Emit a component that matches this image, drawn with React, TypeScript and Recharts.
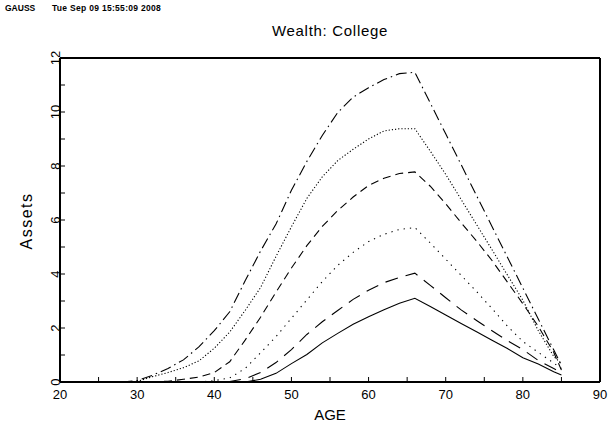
import { LineChart, Line, XAxis, YAxis } from "recharts";

const ages = [
  20, 22, 24, 26, 28, 30, 32, 34, 36, 38, 40, 42, 44, 46, 48, 50, 52, 54, 56, 58, 60, 62, 64, 66,
  68, 70, 72, 74, 76, 78, 80, 82, 84, 85,
];

// lowest curve (solid) up to highest (dash-dot)
const solid = [
  0, 0, 0, 0, 0, 0, 0, 0, 0, 0, 0, 0, 0, 0.1, 0.32, 0.68, 1.02, 1.45, 1.8, 2.14, 2.42, 2.68, 2.92, 3.1,
  2.8, 2.48, 2.17, 1.86, 1.55, 1.24, 0.9, 0.67, 0.38, 0.26,
];
const longDash = [
  0, 0, 0, 0, 0, 0, 0, 0, 0, 0, 0, 0.02, 0.12, 0.35, 0.72, 1.2, 1.76, 2.23, 2.65, 3.06, 3.4, 3.68, 3.87, 4.03,
  3.58, 3.12, 2.67, 2.28, 1.9, 1.53, 1.2, 0.8, 0.5, 0.35,
];
const sparseDot = [
  0, 0, 0, 0, 0, 0, 0, 0, 0, 0, 0.05, 0.15, 0.5, 1.08, 1.68, 2.36, 3.04, 3.72, 4.32, 4.8, 5.2, 5.47, 5.65, 5.72,
  5.15, 4.55, 3.95, 3.35, 2.72, 2.07, 1.5, 1.1, 0.7, 0.5,
];
const mediumDash = [
  0, 0, 0, 0, 0, 0, 0, 0.03, 0.1, 0.18, 0.35, 0.75, 1.55, 2.4, 3.33, 4.22, 5.05, 5.76, 6.35, 6.85, 7.28, 7.55, 7.72, 7.78,
  7.25, 6.6, 5.9, 5.22, 4.5, 3.7, 2.9, 2.06, 1.1, 0.44,
];
const denseDot = [
  0, 0, 0, 0, 0, 0.02, 0.2, 0.35, 0.53, 0.78, 1.25, 1.85, 2.65, 3.5, 4.65, 5.75, 6.8, 7.6, 8.2, 8.62, 9.0, 9.3, 9.38, 9.38,
  8.55, 7.69, 6.76, 5.83, 4.9, 3.96, 3.03, 1.9, 0.95, 0.68,
];
const dashDot = [
  0, 0, 0, 0, 0, 0.05, 0.25, 0.5, 0.82, 1.3, 1.9, 2.6, 3.75, 4.85, 5.85, 7.1, 8.17, 9.13, 9.98, 10.55, 10.9, 11.2, 11.42, 11.47,
  10.33, 9.19, 8.05, 6.9, 5.76, 4.62, 3.48, 2.33, 1.19, 0.62,
];

const xTicks = [20, 25, 30, 35, 40, 45, 50, 55, 60, 65, 70, 75, 80, 85, 90];
const yTicks = [0, 1, 2, 3, 4, 5, 6, 7, 8, 9, 10, 11, 12];

const data = ages.map((age, i) => ({
  age,
  solid: solid[i],
  longDash: longDash[i],
  sparseDot: sparseDot[i],
  mediumDash: mediumDash[i],
  denseDot: denseDot[i],
  dashDot: dashDot[i],
}));

const font = "'Liberation Sans', Arial, sans-serif";

const series = [
  { key: "solid", dash: undefined },
  { key: "longDash", dash: "13 8" },
  { key: "sparseDot", dash: "1.3 5" },
  { key: "mediumDash", dash: "8 5" },
  { key: "denseDot", dash: "1.2 2" },
  { key: "dashDot", dash: "11 4 1.5 4" },
];

function YTick(props: any) {
  const { x, y, payload } = props;
  if (payload.value % 2 !== 0) return null;
  return (
    <text
      x={x}
      y={y}
      transform={`rotate(-90 ${x} ${y})`}
      textAnchor="middle"
      fontSize={13}
      fontFamily={font}
      fill="#000"
    >
      {payload.value}
    </text>
  );
}

const frameLine = { stroke: "#000", strokeWidth: 2 };

export default function App() {
  return (
    <div style={{ position: "absolute", left: 0, top: 0, width: 608, height: 432, background: "#fff" }}>
      <div style={{ position: "absolute", left: 5, top: 3, fontFamily: font, fontSize: 8.5, fontWeight: "bold", whiteSpace: "pre" }}>
        GAUSS
      </div>
      <div style={{ position: "absolute", left: 52, top: 3, fontFamily: font, fontSize: 8.5, fontWeight: "bold", letterSpacing: 0.3, whiteSpace: "pre" }}>
        Tue Sep 09 15:55:09 2008
      </div>
      <div style={{ position: "absolute", left: 0, width: 660, top: 22, textAlign: "center", fontFamily: font, fontSize: 15, letterSpacing: 0.7 }}>
        Wealth:  College
      </div>
      <div style={{ position: "absolute", left: 0, width: 660, top: 406, textAlign: "center", fontFamily: font, fontSize: 15 }}>
        AGE
      </div>
      <div
        style={{
          position: "absolute",
          left: 27,
          top: 221,
          transform: "translate(-50%, -50%) rotate(-90deg)",
          fontFamily: font,
          fontSize: 16,
          letterSpacing: 1.5,
          whiteSpace: "nowrap",
        }}
      >
        Assets
      </div>
      <LineChart width={608} height={432} data={data} margin={{ top: 57, right: 7, bottom: 20, left: 20 }}>
        <XAxis
          dataKey="age"
          type="number"
          domain={[20, 90]}
          ticks={xTicks}
          interval={0}
          height={30}
          axisLine={frameLine}
          tickLine={{ stroke: "#000" }}
          tickSize={-5}
          tickMargin={13}
          tickFormatter={(v: number) => (v % 10 === 0 ? String(v) : "")}
          tick={{ fill: "#000", fontSize: 13, fontFamily: font }}
        />
        <XAxis
          xAxisId="top"
          orientation="top"
          dataKey="age"
          type="number"
          domain={[20, 90]}
          ticks={xTicks}
          interval={0}
          height={1}
          tick={false}
          axisLine={frameLine}
          tickLine={{ stroke: "#000" }}
          tickSize={-5}
        />
        <YAxis
          type="number"
          domain={[0, 12]}
          ticks={yTicks}
          interval={0}
          width={40}
          axisLine={frameLine}
          tickLine={{ stroke: "#000" }}
          tickSize={-5}
          tickMargin={5}
          tick={<YTick />}
        />
        <YAxis
          yAxisId="right"
          orientation="right"
          type="number"
          domain={[0, 12]}
          ticks={yTicks}
          interval={0}
          width={1}
          tick={false}
          axisLine={frameLine}
          tickLine={{ stroke: "#000" }}
          tickSize={-5}
        />
        {series.map((s) => (
          <Line
            key={s.key}
            dataKey={s.key}
            type="linear"
            stroke="#000"
            strokeWidth={1.1}
            strokeDasharray={s.dash}
            dot={false}
            activeDot={false}
            isAnimationActive={false}
          />
        ))}
        {/* invisible series so the top and right frame axes get drawn */}
        <Line
          xAxisId="top"
          yAxisId="right"
          dataKey="dashDot"
          stroke="none"
          dot={false}
          activeDot={false}
          legendType="none"
          isAnimationActive={false}
        />
      </LineChart>
    </div>
  );
}
